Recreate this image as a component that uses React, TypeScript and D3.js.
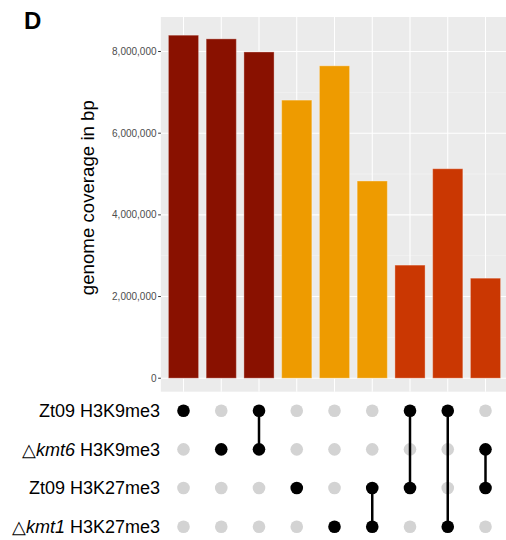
import React from "react";
import * as d3 from "d3";

// Intersection sizes (bp), one bar per set combination
const coverage: number[] = [8400000, 8310000, 7990000, 6810000, 7650000, 4830000, 2770000, 5130000, 2450000];
// Group index per bar (0: single H3K9me3, 1: H3K27me3, 2: mixed)
const groups: number[] = [0, 0, 0, 1, 1, 1, 2, 2, 2];
const groupColors: string[] = ["#891100", "#EE9B00", "#CA3702"];

// Set membership per bar (row indices into setNames)
const memberships: number[][] = [[0], [1], [0, 1], [2], [3], [2, 3], [0, 2], [0, 3], [1, 2]];

// Row labels: prefix, italic part, suffix
const setPrefix: string[] = ["Zt09", "\u25B3", "Zt09", "\u25B3"];
const setItalic: string[] = ["", "kmt6", "", "kmt1"];
const setSuffix: string[] = [" H3K9me3", " H3K9me3", " H3K27me3", " H3K27me3"];

const yTicks: number[] = [0, 2000000, 4000000, 6000000, 8000000];
const yMinor: number[] = [1000000, 3000000, 5000000, 7000000];

const W = 506;
const H = 540;
const FONT = "'Liberation Sans', Arial, Helvetica, sans-serif";

export default function App() {
  const panel = { left: 160.85, right: 508.15, top: 17, bottom: 391.7 };
  const x = d3.scaleLinear().domain([0.4, coverage.length + 0.6]).range([panel.left, panel.right]);
  const y = d3.scaleLinear().domain([-330000, 8845000]).range([panel.bottom, panel.top]);
  const rowY = d3.scalePoint<number>().domain([0, 1, 2, 3]).range([410.7, 526.7]);
  const fmt = d3.format(",");
  const barW = x(1.8) - x(1);

  return (
    <svg width={W} height={H} style={{ position: "absolute", left: 0, top: 0, background: "#fff" }}
      fontFamily={FONT}>
      <text x={24} y={29} fontSize={24} fontWeight="bold" fill="#000">D</text>

      {/* panel */}
      <rect x={panel.left} y={panel.top} width={panel.right - panel.left} height={panel.bottom - panel.top} fill="#EBEBEB" />
      {yMinor.map((v) => (
        <line key={"mn" + v} x1={panel.left} x2={panel.right} y1={y(v)} y2={y(v)} stroke="#fff" strokeWidth={0.55} opacity={0.6} />
      ))}
      {yTicks.map((v) => (
        <line key={"mj" + v} x1={panel.left} x2={panel.right} y1={y(v)} y2={y(v)} stroke="#fff" strokeWidth={1.07} />
      ))}
      {coverage.map((_, i) => (
        <line key={"vx" + i} x1={x(i + 1)} x2={x(i + 1)} y1={panel.top} y2={panel.bottom} stroke="#fff" strokeWidth={1.07} />
      ))}

      {/* bars */}
      {coverage.map((v, i) => (
        <rect key={"b" + i} x={x(i + 1) - barW / 2} y={y(v)} width={barW} height={y(0) - y(v)}
          fill={groupColors[groups[i]]} stroke="rgba(255,255,255,0.35)" strokeWidth={1} />
      ))}

      {/* y axis */}
      {yTicks.map((v) => (
        <g key={"t" + v}>
          <line x1={panel.left - 2.7} x2={panel.left} y1={y(v)} y2={y(v)} stroke="#333" strokeWidth={1} />
          <text x={panel.left - 4.3} y={y(v)} dy="0.35em" textAnchor="end" fontSize={10} fill="#4D4D4D">{fmt(v)}</text>
        </g>
      ))}
      <text transform={`translate(94,${(panel.top + 378.3) / 2 + 0}) rotate(-90)`} textAnchor="middle"
        fontSize={18.67} fill="#000">genome coverage in bp</text>

      {/* set labels */}
      {setPrefix.map((p, r) => (
        <text key={"l" + r} x={160} y={rowY(r)} dy="0.35em" textAnchor="end" fontSize={18} fill="#000">
          <tspan>{p}</tspan>
          {setItalic[r] ? <tspan fontStyle="italic">{setItalic[r]}</tspan> : null}
          <tspan>{setSuffix[r]}</tspan>
        </text>
      ))}

      {/* matrix dots */}
      {coverage.map((_, i) =>
        [0, 1, 2, 3].map((r) => (
          <circle key={`g${i}-${r}`} cx={x(i + 1)} cy={rowY(r)} r={6.3}
            fill={memberships[i].includes(r) ? "#000" : "#D3D3D3"} />
        ))
      )}
      {memberships.map((m, i) =>
        m.length > 1 ? (
          <line key={"c" + i} x1={x(i + 1)} x2={x(i + 1)} y1={rowY(d3.min(m)!)} y2={rowY(d3.max(m)!)}
            stroke="#000" strokeWidth={2.5} />
        ) : null
      )}
    </svg>
  );
}
